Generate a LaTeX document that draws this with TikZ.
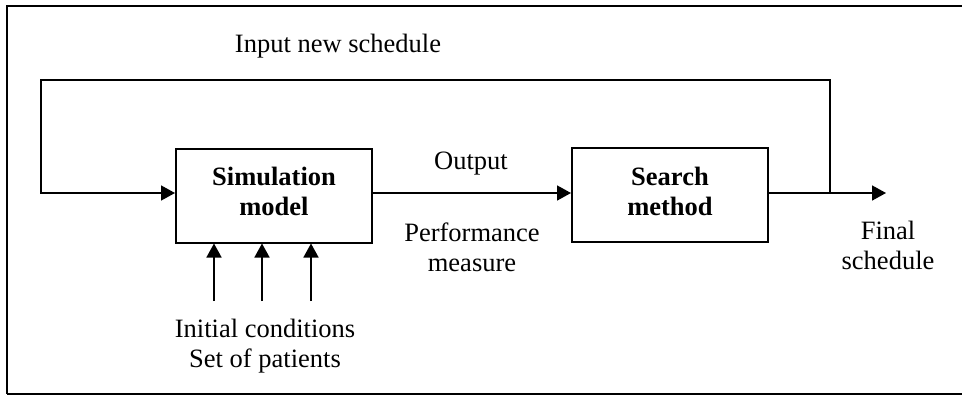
\documentclass[tikz,border=0pt]{standalone}
\usepackage{fontspec}
\setmainfont{Liberation Serif}
\usetikzlibrary{arrows.meta}
\begin{document}
\begin{tikzpicture}[x=0.5pt,y=-0.5pt,
  every node/.style={font=\fontsize{13.25}{15}\selectfont, inner sep=0pt},
  box/.style={draw, line width=1pt, minimum width=98pt, minimum height=47pt},
  boxtext/.style={font=\fontsize{13.25}{15}\selectfont\bfseries, align=center},
  lbl/.style={align=center},
  conn/.style={line width=0.8pt, -{Triangle[width=7.5pt,length=7pt]}},
  line/.style={line width=0.8pt}]
\useasboundingbox (0,0) rectangle (962,396);
% frame
\draw[line width=1pt] (962,6) -- (7,6) -- (7,394);
\draw[line width=0.8pt] (7,394) -- (962,394);
% boxes
\node[box] (sim) at (274,195.5) {};
\node[boxtext] (simt) at (274,191) {Simulation\\model};
\node[box] (search) at (670,195) {};
\node[boxtext] (searcht) at (670,191) {Search\\method};
% labels
\node[anchor=base] (inp) at (338,52) {Input new schedule};
\node[anchor=base] (out) at (471,169) {Output};
\node[lbl] (perf) at (472,247) {Performance\\measure};
\node[lbl] (fin) at (888,245.5) {Final\\schedule};
\node[lbl] (init) at (265,346) {Initial conditions\\Set of patients};
% coordinates
\coordinate (jn) at (830,193);
\coordinate (tl) at (41,80);
\coordinate (end) at (886,193);
\coordinate (i1) at (214,301);
\coordinate (i2) at (262,301);
\coordinate (i3) at (311,301);
% connectors
\draw[conn] (sim.east |- jn) -- (search.west |- jn);
\draw[conn] (search.east |- jn) -- (end);
\draw[conn] (jn) |- (tl) |- (sim.west |- jn);
\draw[conn] (i1) -- (i1 |- sim.south);
\draw[conn] (i2) -- (i2 |- sim.south);
\draw[conn] (i3) -- (i3 |- sim.south);
\end{tikzpicture}
\end{document}
